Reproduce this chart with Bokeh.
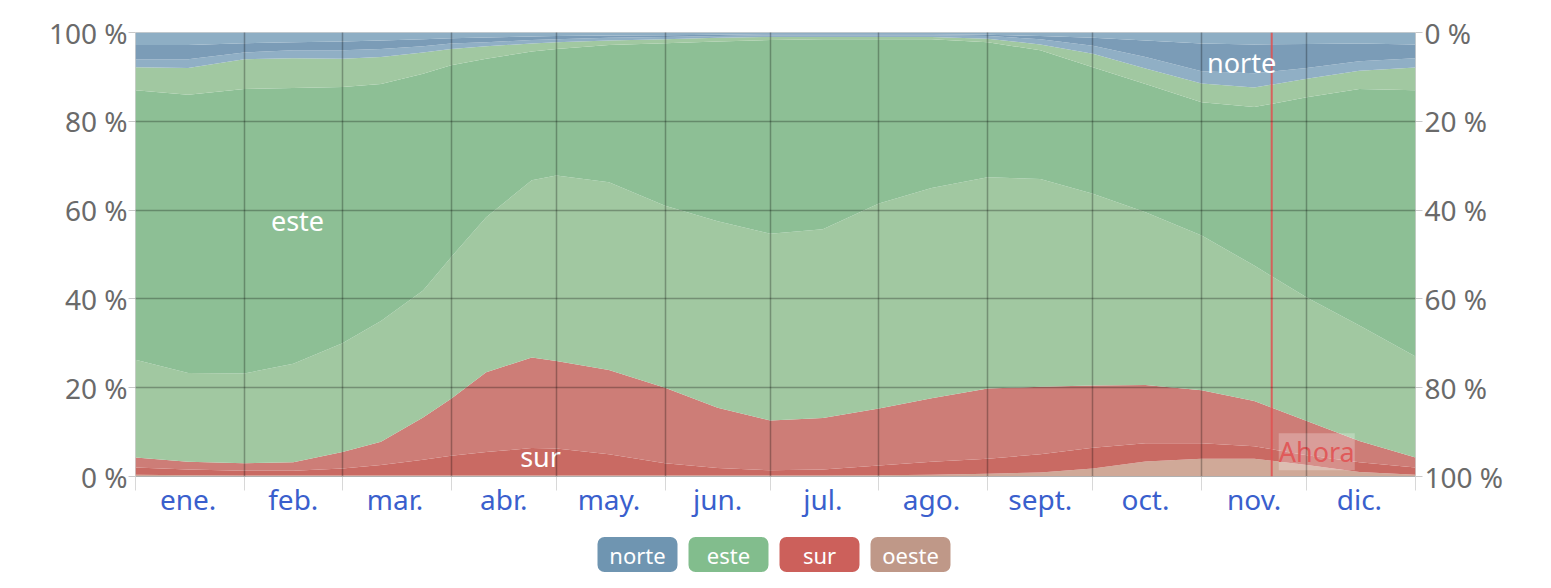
from bokeh.plotting import figure
from bokeh.models import Range1d, LinearAxis, FixedTicker, Label, Span
from bokeh.layouts import column
from bokeh.embed import file_html
from bokeh.resources import INLINE
from bokeh.core.properties import value

# ---------------- data (percent of hours, cumulative boundaries) ----------------
days = [0, 15, 31, 45, 59, 70, 82, 90, 100, 113, 120, 135, 151, 166, 181, 196,
        212, 227, 243, 258, 273, 288, 304, 319, 334, 349, 365]

oeste_top = [0.4, 0.3, 0.2, 0.2, 0.2, 0.2, 0.2, 0.2, 0.2, 0.2, 0.2, 0.2, 0.2, 0.2,
             0.2, 0.2, 0.3, 0.4, 0.6, 0.9, 1.8, 3.4, 4.0, 4.0, 2.6, 1.0, 0.4]
sur_puro_top = [2.0, 1.6, 1.3, 1.3, 1.8, 2.6, 3.8, 4.7, 5.5, 6.4, 6.3, 5.0, 3.0, 1.9,
                1.4, 1.6, 2.5, 3.3, 4.0, 5.0, 6.5, 7.5, 7.5, 6.8, 4.8, 3.2, 2.0]
sur_top = [4.3, 3.3, 3.0, 3.2, 5.5, 7.8, 13.3, 17.5, 23.5, 26.8, 26.0, 24.0, 20.0, 15.5,
           12.6, 13.2, 15.3, 17.6, 19.8, 20.2, 20.5, 20.6, 19.4, 17.0, 12.5, 8.0, 4.3]
este_se_top = [26.3, 23.3, 23.2, 25.4, 30.0, 35.0, 41.9, 49.4, 58.4, 66.7, 67.8, 66.3, 61.0,
               57.5, 54.7, 55.7, 61.5, 65.0, 67.4, 67.0, 63.7, 59.5, 54.3, 47.5, 40.3, 34.0, 27.0]
este_puro_top = [87.0, 86.0, 87.3, 87.5, 87.7, 88.4, 90.7, 92.6, 94.1, 95.7, 96.3, 97.2, 97.6,
                 98.0, 98.3, 98.5, 98.5, 98.5, 97.8, 96.0, 92.2, 88.4, 84.3, 83.2, 85.4, 87.3, 87.0]
este_top = [92.2, 92.0, 94.0, 94.2, 94.1, 94.5, 95.5, 96.3, 96.9, 97.5, 97.8, 98.2, 98.5,
            98.8, 99.0, 99.0, 99.0, 99.0, 98.6, 97.3, 95.2, 91.9, 88.5, 87.6, 89.6, 91.4, 92.1]
norte_ne_top = [94.0, 94.0, 95.5, 96.0, 96.0, 96.3, 96.9, 97.5, 97.8, 98.3, 98.5, 98.8, 99.0,
                99.2, 99.4, 99.4, 99.4, 99.4, 99.2, 98.5, 97.0, 94.5, 91.3, 90.8, 92.0, 93.5, 94.2]
norte_puro_top = [97.2, 97.2, 97.6, 97.8, 98.0, 98.2, 98.5, 98.7, 98.9, 99.1, 99.2, 99.3, 99.4,
                  99.5, 99.6, 99.6, 99.6, 99.6, 99.5, 99.2, 98.8, 98.2, 97.5, 97.3, 97.4, 97.5, 97.3]
total_top = [100.0] * len(days)

month_bounds = [0, 31, 59, 90, 120, 151, 181, 212, 243, 273, 304, 334, 365]
month_labels = ["ene.", "feb.", "mar.", "abr.", "may.", "jun.", "jul.", "ago.",
                "sept.", "oct.", "nov.", "dic."]
pct_ticks = [0, 20, 40, 60, 80, 100]
ahora_day = 324
legend_names = ["norte", "este", "sur", "oeste"]
legend_colors = ["#6f95b1", "#82bd8d", "#cc605b", "#bf9888"]

FONT = "Noto Sans"
FRAME_L, FRAME_R = 135, 1415  # page-pixel extent of the plot frame

# ---------------- main figure ----------------
p = figure(width=1543, height=534, x_range=Range1d(0, 365), y_range=Range1d(0, 100),
           output_backend="svg", toolbar_location=None,
           min_border_left=FRAME_L, min_border_right=1543 - FRAME_R,
           min_border_top=32, min_border_bottom=58)
p.outline_line_color = "#d0d0d0"
p.background_fill_color = "white"

bounds = [[0.0] * len(days), oeste_top, sur_puro_top, sur_top, este_se_top,
          este_puro_top, este_top, norte_ne_top, norte_puro_top, total_top]
band_colors = ["#d0a998", "#c96a63", "#cd7d77", "#a1c8a1", "#8dbf95",
               "#a1c8a1", "#90afc5", "#7b9cb7", "#8eaec4"]
for i, c in enumerate(band_colors):
    p.varea(x=days, y1=bounds[i], y2=bounds[i + 1], fill_color=c, fill_alpha=1.0)

# grid above the areas
p.xgrid.ticker = FixedTicker(ticks=month_bounds)
p.ygrid.ticker = FixedTicker(ticks=pct_ticks)
for g in (p.xgrid, p.ygrid):
    g.grid_line_color = "black"
    g.grid_line_alpha = 0.28
    g.grid_line_width = 1.5
    g.level = "overlay"

# bottom axis: month labels centred, boundary ticks extend below
mids = [(a + b) // 2 for a, b in zip(month_bounds[:-1], month_bounds[1:])]
xa = p.xaxis[0]
xa.ticker = FixedTicker(ticks=mids, minor_ticks=month_bounds)
xa.major_label_overrides = {m: lab for m, lab in zip(mids, month_labels)}
xa.major_tick_line_color = None
xa.minor_tick_out = 14
xa.minor_tick_in = 0
xa.minor_tick_line_color = "#d8d8d8"
xa.axis_line_color = "#b0b0b0"
xa.major_label_text_font = FONT
xa.major_label_text_font_size = "28px"
xa.major_label_text_color = "#3a5fcd"
xa.major_label_standoff = -11

pct_over = {t: f"{t} %" for t in pct_ticks}
ya = p.yaxis[0]
ya.ticker = FixedTicker(ticks=pct_ticks)
ya.major_label_overrides = pct_over
ya.axis_line_color = None
ya.minor_tick_line_color = None
ya.major_tick_out = 7
ya.major_tick_in = 0
ya.major_tick_line_color = "#c8c8c8"
ya.major_label_text_font = FONT
ya.major_label_text_font_size = "28px"
ya.major_label_text_color = "#6a6a6a"
ya.major_label_standoff = 1

p.extra_y_ranges = {"rev": Range1d(100, 0)}
ra = LinearAxis(y_range_name="rev", ticker=FixedTicker(ticks=pct_ticks),
                major_label_overrides=pct_over)
ra.axis_line_color = None
ra.minor_tick_line_color = None
ra.major_tick_out = 7
ra.major_tick_in = 0
ra.major_tick_line_color = "#c8c8c8"
ra.major_label_text_font = FONT
ra.major_label_text_font_size = "28px"
ra.major_label_text_color = "#6a6a6a"
ra.major_label_standoff = 2
p.add_layout(ra, "right")

# "now" marker
p.add_layout(Span(location=ahora_day, dimension="height", line_color="#e05050",
                  line_width=2, line_alpha=0.85))

def add_label(x, y, text, color="white", align="center", **kw):
    p.add_layout(Label(x=x, y=y, text=text, text_align=align, text_baseline="middle",
                       text_color=color, text_font=FONT, text_font_size="27px", **kw))

add_label(315.4, 93.2, "norte")
add_label(46.2, 57.7, "este")
add_label(115.5, 4.6, "sur")
add_label(ahora_day + 2.0, 5.6, "Ahora", color="#e05a5a", align="left",
          background_fill_color="white", background_fill_alpha=0.25)

# ---------------- legend strip (frame aligned with main frame) ----------------
lg = figure(width=1543, height=46, x_range=Range1d(FRAME_L, FRAME_R), y_range=Range1d(0, 46),
            output_backend="svg", toolbar_location=None,
            min_border_left=FRAME_L, min_border_right=1543 - FRAME_R,
            min_border_top=0, min_border_bottom=0)
lg.axis.visible = False
lg.grid.visible = False
lg.outline_line_color = None
cx = [637 + 91 * i for i in range(len(legend_names))]
lg.quad(left=[c - 40 for c in cx], right=[c + 40 for c in cx],
        bottom=[8.5] * len(cx), top=[43.5] * len(cx),
        fill_color=legend_colors, line_color=None, border_radius=7)
lg.text(x=cx, y=[26] * len(cx), text=legend_names, text_align="center",
        text_baseline="middle", text_color="white", text_font=value(FONT),
        text_font_size="22px")

layout = column(p, lg)
open("out.html", "w").write(file_html(layout, INLINE))
